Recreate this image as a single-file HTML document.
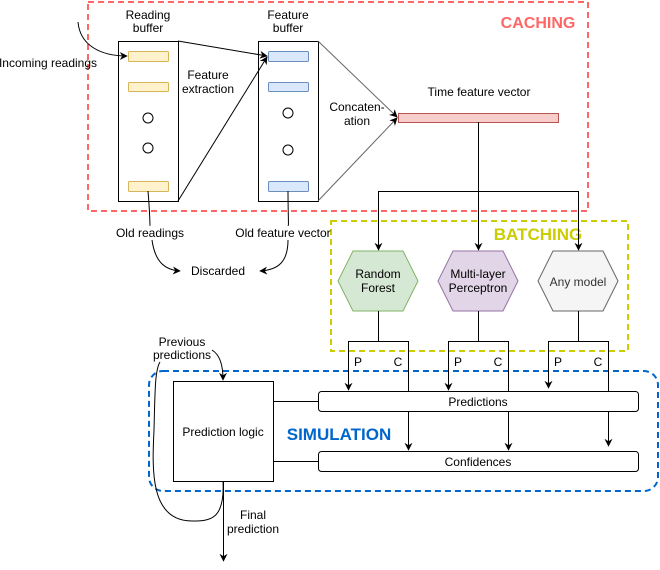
<!DOCTYPE html>
<html><head><meta charset="utf-8"><style>body{margin:0;background:#fff}svg{display:block}text{font-family:"Liberation Sans",Arial,sans-serif;font-size:12px;fill:#000}</style></head><body>
<svg width="660" height="570" viewBox="0 0 660 570" xmlns="http://www.w3.org/2000/svg">
<defs><marker id="a" viewBox="0 0 10 10" refX="9" refY="5" markerWidth="8" markerHeight="8" orient="auto"><path d="M0,0 L10,5 L0,10 L3,5 z" fill="#000"/></marker></defs>
<g fill="none" stroke-width="2" stroke-dasharray="6,4">
<rect x="88" y="2" width="500" height="209" stroke="#ff6666"/>
<rect x="331" y="221" width="297" height="130" stroke="#cccc00"/>
<rect x="149" y="371" width="509" height="120" rx="14" stroke="#0066cc"/>
</g>
<text x="538" y="28" text-anchor="middle" style="font-size:16px;font-weight:bold;fill:#ff6666">CACHING</text>
<text x="538" y="240" text-anchor="middle" style="font-size:17px;font-weight:bold;fill:#cccc00">BATCHING</text>
<text x="339" y="440" text-anchor="middle" style="font-size:17px;font-weight:bold;fill:#0066cc">SIMULATION</text>
<g stroke="#000" fill="none">
<rect x="118.5" y="41.5" width="60" height="160" fill="#fff"/>
<rect x="258.5" y="41.5" width="60" height="160" fill="#fff"/>
<circle cx="148" cy="118" r="5"/><circle cx="148" cy="148" r="5"/>
<circle cx="288" cy="113" r="5"/><circle cx="288" cy="150" r="5"/>
</g>
<g stroke="#d6b656" fill="#fff2cc"><rect x="128.5" y="51.5" width="40" height="10" rx="1"/><rect x="128.5" y="82.5" width="40" height="9" rx="1"/><rect x="128.5" y="181.5" width="40" height="10" rx="1"/></g>
<g stroke="#6c8ebf" fill="#dae8fc"><rect x="268.5" y="51.5" width="40" height="10" rx="1"/><rect x="268.5" y="82.5" width="40" height="9" rx="1"/><rect x="268.5" y="181.5" width="40" height="10" rx="1"/></g>
<rect x="398.5" y="113.5" width="160" height="9" fill="#f8cecc" stroke="#b85450"/>
<g stroke="#000" fill="none">
<path d="M78,22 C80,45 100,56 127,56" marker-end="url(#a)"/>
<path d="M178,41 L267,56" marker-end="url(#a)"/>
<path d="M178,201 L267,57" marker-end="url(#a)"/>
<path d="M318,41 L397,117" stroke="#666" marker-end="url(#a)"/>
<path d="M318,201 L397,118" stroke="#666" marker-end="url(#a)"/>
<path d="M478.5,122 V191.5 M378.5,191.5 H578.5"/>
<path d="M378.5,191 V250" marker-end="url(#a)"/><path d="M478.5,191 V250" marker-end="url(#a)"/><path d="M578.5,191 V250" marker-end="url(#a)"/>
<path d="M148,191 C150,215 150,228 150,225 M152,240 C155,262 165,270 180,271" marker-end="url(#a)"/>
<path d="M288,191 C288,215 289,228 288,225 M288,240 C288,262 278,270 260,271" marker-end="url(#a)"/>
</g>
<g stroke-width="1">
<polygon points="353,251 403,251 418,281 403,311 353,311 338,281" fill="#d5e8d4" stroke="#82b366"/>
<polygon points="453,251 503,251 518,281 503,311 453,311 438,281" fill="#e1d5e7" stroke="#9673a6"/>
<polygon points="553,251 603,251 618,281 603,311 553,311 538,281" fill="#f5f5f5" stroke="#666"/>
</g>
<g stroke="#000" fill="none">
<path d="M378.5,311 V341.5 M348.5,341.5 H408.5 M478.5,311 V341.5 M448.5,341.5 H508.5 M578.5,311 V341.5 M548.5,341.5 H608.5"/>
<path d="M348.5,341 V390" marker-end="url(#a)"/><path d="M408.5,341 V450" marker-end="url(#a)"/>
<path d="M448.5,341 V390" marker-end="url(#a)"/><path d="M508.5,341 V450" marker-end="url(#a)"/>
<path d="M548.5,341 V388" marker-end="url(#a)"/><path d="M608.5,341 V446" marker-end="url(#a)"/>
<rect x="173.5" y="381.5" width="100" height="100" fill="#fff"/>
<rect x="318.5" y="391.5" width="320" height="20" rx="3" fill="#fff"/>
<rect x="318.5" y="451.5" width="320" height="20" rx="3" fill="#fff"/>
<path d="M273,401.5 H318 M273,461.5 H318"/>
<path d="M223.5,481 V561" marker-end="url(#a)"/>
<path d="M212,350 C220,355 223,365 223,380" marker-end="url(#a)"/>
<path d="M223,481 C225,520 210,521 192,521 C150,521 152,470 154,430 C155,390 155,370 160,362"/>
</g>
<g text-anchor="middle">
<text x="148" y="19">Reading</text><text x="148" y="32">buffer</text>
<text x="288" y="19">Feature</text><text x="288" y="32">buffer</text>
<text x="48" y="67">Incoming readings</text>
<text x="208" y="79">Feature</text><text x="208" y="93">extraction</text>
<text x="357" y="111">Concaten-</text><text x="357" y="125">ation</text>
<text x="479" y="96">Time feature vector</text>
<text x="150" y="237">Old readings</text><text x="283" y="237">Old feature vector</text>
<text x="218" y="275">Discarded</text>
<text x="378" y="278">Random</text><text x="378" y="292">Forest</text>
<text x="478" y="278">Multi-layer</text><text x="478" y="292">Perceptron</text>
<text x="578" y="286" style="fill:#333">Any model</text>
<text x="358" y="366">P</text><text x="398" y="366">C</text>
<text x="458" y="366">P</text><text x="498" y="366">C</text>
<text x="558" y="366">P</text><text x="598" y="366">C</text>
<text x="182" y="346">Previous</text><text x="182" y="359">predictions</text>
<text x="223" y="436">Prediction logic</text>
<text x="478" y="406">Predictions</text>
<text x="478" y="466">Confidences</text>
<text x="253" y="519">Final</text><text x="253" y="533">prediction</text>
</g>
</svg>
</body></html>
